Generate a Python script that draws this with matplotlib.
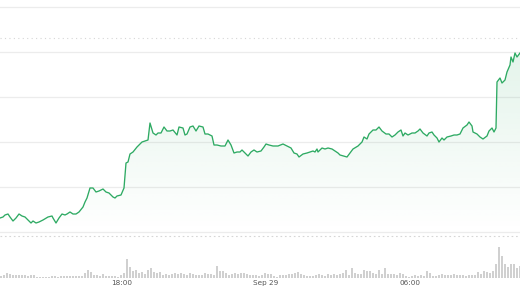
import numpy as np
import pandas as pd
import matplotlib
matplotlib.use("Agg")
import matplotlib.pyplot as plt
import matplotlib.dates as mdates
from matplotlib.colors import to_rgb
from matplotlib.patches import Polygon

# time window of the chart
start = pd.Timestamp("2023-09-28 12:55")
end = pd.Timestamp("2023-09-29 10:35")

# price samples: minutes after start, price (chart units, grid step = 45)
price_minutes = [
    0, 7.5, 12.5, 20, 25, 32.5, 40, 47.5, 55, 62.5, 70, 77.5, 82.5, 90, 97.5,
    107.5, 120, 130, 132.5, 140, 147.5, 155, 162.5, 167.5, 175, 182.5, 190,
    197.5, 207.5, 212.5, 217.5, 225, 232.5, 240, 247.5, 257.5, 265, 272.5,
    282.5, 287.5, 292.5, 302.5, 310, 315, 320, 325, 332.5, 342.5, 347.5, 355,
    362.5, 370, 375, 382.5, 390, 395, 402.5, 410, 417.5, 425, 432.5, 442.5,
    447.5, 457.5, 462.5, 467.5, 475, 482.5, 490, 497.5, 507.5, 512.5, 520,
    530, 535, 542.5, 552.5, 562.5, 570, 577.5, 585, 592.5, 600, 605, 612.5,
    620, 627.5, 635, 642.5, 652.5, 660, 665, 672.5, 682.5, 695, 707.5, 717.5,
    727.5, 735, 742.5, 747.5, 757.5, 767.5, 782.5, 787.5, 792.5, 795, 805,
    812.5, 820, 830, 837.5, 845, 850, 867.5, 882.5, 895, 905, 910, 917.5,
    922.5, 932.5, 940, 947.5, 955, 965, 972.5, 980, 987.5, 995, 1002.5,
    1007.5, 1012.5, 1020, 1030, 1037.5, 1045, 1050, 1057.5, 1067.5, 1072.5,
    1080, 1085, 1092.5, 1097.5, 1105, 1110, 1117.5, 1127.5, 1135, 1142.5,
    1150, 1157.5, 1167.5, 1172.5, 1180, 1182.5, 1192.5, 1200, 1207.5, 1217.5,
    1222.5, 1230, 1235, 1240, 1242.5, 1250, 1255, 1262.5, 1267.5, 1275,
    1277.5, 1282.5, 1287.5, 1292.5, 1300,
]
price = [
    14, 15, 17, 18, 15, 11, 14, 18, 16, 15, 12, 9, 11, 9, 10,
    12, 15, 16, 14, 9, 14, 18, 17, 18, 20, 18, 18,
    20, 25, 30, 34, 44, 44, 40, 41, 43, 40, 39,
    35, 34, 36, 37, 44, 69, 70, 78, 80, 85, 87, 90,
    91, 92, 109, 99, 97, 99, 99, 105, 101, 101, 102, 97,
    105, 104, 97, 98, 105, 106, 101, 106, 105, 98, 98,
    96, 87, 87, 86, 86, 92, 87, 79, 80, 80, 82, 79,
    76, 80, 82, 80, 81, 85, 88, 87, 86, 86, 88, 86,
    84, 79, 78, 75, 78, 79, 81, 80, 83, 80, 84,
    83, 84, 83, 81, 79, 77, 75, 83, 86, 90, 95, 93,
    98, 102, 102, 105, 101, 98, 98, 95, 97, 100, 102,
    96, 99, 97, 99, 99, 101, 103, 99, 96, 99,
    100, 97, 94, 90, 94, 92, 95, 96, 97, 97,
    98, 104, 107, 110, 106, 100, 98, 95, 93, 96,
    101, 104, 100, 104, 150, 154, 149, 152, 160, 167,
    175, 170, 179, 175, 179,
]

# volume bars, one every 7.5 minutes from start
volume_step_min = 7.5
volume = [
    2, 3, 5, 4, 3, 3, 3, 3, 3, 2,
    3, 3, 1, 1, 1, 1, 1, 1.5, 1.5, 1,
    1.5, 1.5, 1.5, 2, 2, 2, 2, 2, 5, 7.5,
    6, 3, 3, 2, 3.5, 2, 1.5, 1.5, 1.5, 1,
    3, 5, 18.5, 11, 7, 8, 5, 6, 4, 8,
    9.5, 6, 5, 6, 3, 4, 3, 4, 5, 4,
    5, 4, 3, 5, 4, 3, 3, 3, 5, 4,
    4, 3, 11.5, 7, 7, 5, 3, 4, 5, 4,
    5, 5, 4, 3, 3, 3, 2, 3, 5, 4,
    4, 2, 1, 3, 3, 3, 4, 4, 5, 6,
    4, 3, 2, 2, 2, 3, 4, 3, 2, 4,
    3, 4, 3, 4, 5, 8, 3, 10, 5, 4,
    4, 8, 7, 7, 5, 4, 8, 4, 10, 4,
    4, 4, 3, 5, 4, 2, 1, 2, 3, 2,
    3, 2, 7, 5, 2, 2, 3, 4, 3, 3,
    3, 4, 3, 3, 3, 2, 3, 3, 3, 6,
    4, 7, 6, 5, 7, 14, 31, 22, 14, 11,
    14, 14, 10, 12,
]

tick_times = ["2023-09-28 18:00", "2023-09-29 00:00", "2023-09-29 06:00"]
tick_labels = ["18:00", "Sep 29", "06:00"]

grid_levels = [0, 45, 90, 135, 180, 225]
ref_level = 194

green = "#2eaa63"

t = mdates.date2num(start + pd.to_timedelta(price_minutes, unit="min"))
vt = mdates.date2num(start + pd.to_timedelta(np.arange(len(volume)) * volume_step_min, unit="min"))
x0 = mdates.date2num(start)
x1 = mdates.date2num(end)

fig = plt.figure(figsize=(5.2, 2.93), dpi=100)

# price panel
ax = fig.add_axes([0, 57 / 293, 1, 236 / 293])
for lv in grid_levels:
    ax.axhline(lv, color="#ececec", lw=0.9, zorder=0)
ax.axhline(ref_level, color="#d6d6d6", lw=0.8, ls=(0, (1, 3)), zorder=0)

top = max(price)
grad = np.zeros((256, 1, 4))
grad[:, 0, :3] = to_rgb(green)
grad[:, 0, 3] = np.linspace(0.13, 0.0, 256)
im = ax.imshow(grad, aspect="auto", extent=[x0, x1, 0, top], origin="upper", zorder=1)
verts = [(t[0], 0)] + list(zip(t, price)) + [(t[-1], 0)]
clip = Polygon(verts, closed=True, facecolor="none", edgecolor="none")
ax.add_patch(clip)
im.set_clip_path(clip)

ax.plot(t, price, color=green, lw=0.95, zorder=3, solid_joinstyle="round")
ax.set_xlim(x0, x1)
ax.set_ylim(-4, 232)
ax.set_axis_off()

# volume panel
axv = fig.add_axes([0, 15.3 / 293, 1, 41.7 / 293])
axv.bar(vt, volume, width=6.0 / 1440, color="#d0d0d0", align="edge")
axv.axhline(41.3, color="#d6d6d6", lw=0.8, ls=(0, (1.5, 2.5)), clip_on=False)
axv.set_xlim(x0, x1)
axv.set_ylim(0, 41.7)
for s in axv.spines.values():
    s.set_visible(False)
axv.set_yticks([])
axv.set_xticks(mdates.date2num(pd.to_datetime(tick_times)))
axv.set_xticklabels(tick_labels)
axv.tick_params(axis="x", length=0, pad=2.0, labelsize=5.2, labelcolor="#555555")

fig.savefig("out.png", dpi=100)
